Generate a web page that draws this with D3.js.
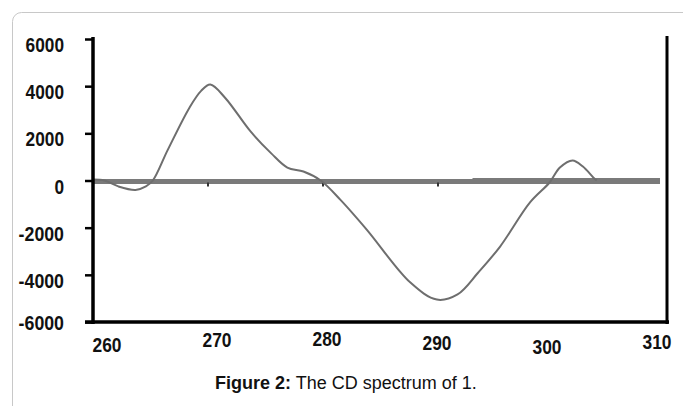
<!DOCTYPE html>
<html><head><meta charset="utf-8">
<script src="https://cdn.jsdelivr.net/npm/d3@7"></script>
<style>
html,body{margin:0;padding:0;background:#fff;}
svg{display:block;}
.num{font-family:"Liberation Sans",Arial,sans-serif;font-weight:bold;font-size:20px;fill:#111;}
.cap{font-family:"Liberation Sans",Arial,sans-serif;font-size:18px;fill:#111;}
</style></head>
<body>
<svg id="c" width="683" height="406"></svg>
<script>
// Data (wavelength nm, CD value)
const wavelengths = [260, 261, 262.2, 263.7, 264.6, 265.2, 266.5, 268.4, 269.4, 270.2, 271.5, 273.7, 275.5, 276.9, 278.3, 279.8, 281.5, 283.8, 287.6, 289.9, 291.7, 293.5, 295.4, 298.0, 299.7, 300.6, 301.7, 302.6, 303.5, 303.8];
const cdValues    = [40, 0, -250, -400, -250, 0, 1300, 3100, 3800, 4070, 3500, 2080, 1150, 550, 380, 0, -810, -2080, -4330, -5050, -4830, -3900, -2800, -930, -85, 550, 850, 590, 130, 0];
const xTicks = [260, 270, 280, 290, 300, 310];
const yTicks = [6000, 4000, 2000, 0, -2000, -4000, -6000];
const captionBold = "Figure 2:";
const captionText = " The CD spectrum of 1.";

const svg = d3.select("#c");

// card border
svg.append("rect").attr("x", 12.5).attr("y", 12.5).attr("width", 720).attr("height", 420)
  .attr("rx", 9).attr("fill", "none").attr("stroke", "#c8c8c8").attr("stroke-width", 1);

const x = d3.scaleLinear().domain([260, 310]).range([93, 668]);
const y = d3.scaleLinear().domain([-6000, 6000]).range([322, 39]);
const xLabel = d3.scaleLinear().domain([260, 310]).range([107, 657]);

// zero line
svg.append("line").attr("x1", x(260)).attr("x2", x(310) - 8).attr("y1", y(0) + 1).attr("y2", y(0) + 1)
  .attr("stroke", "#7a7a7a").attr("stroke-width", 5);
svg.append("line").attr("x1", x(293)).attr("x2", x(310) - 8).attr("y1", y(0) - 1).attr("y2", y(0) - 1)
  .attr("stroke", "#7a7a7a").attr("stroke-width", 3);
// small ticks on the zero line
svg.selectAll(".zt").data([270, 280, 290]).enter().append("line")
  .attr("x1", d => x(d)).attr("x2", d => x(d)).attr("y1", y(0) + 2).attr("y2", y(0) + 6)
  .attr("stroke", "#333").attr("stroke-width", 2);

// curve
const line = d3.line().x((d, i) => x(wavelengths[i])).y(d => y(d)).curve(d3.curveCatmullRom.alpha(0.5));
svg.append("path").datum(cdValues).attr("d", line).attr("fill", "none")
  .attr("stroke", "#6e6e6e").attr("stroke-width", 2);

// left axis
const yAxis = d3.axisLeft(y).tickValues(yTicks).tickSize(8).tickFormat("");
const ga = svg.append("g").attr("transform", `translate(${x(260)},0)`).call(yAxis);
ga.select(".domain").remove();
ga.selectAll(".tick line").attr("stroke", "#000").attr("stroke-width", 2.5);
svg.append("line").attr("x1", x(260)).attr("x2", x(260)).attr("y1", 37).attr("y2", 324)
  .attr("stroke", "#000").attr("stroke-width", 3.5);
// right axis
svg.append("line").attr("x1", x(310) - 1).attr("x2", x(310) - 1).attr("y1", 36).attr("y2", 324)
  .attr("stroke", "#000").attr("stroke-width", 3);
// bottom axis
svg.append("line").attr("x1", 85).attr("x2", x(310) + 1).attr("y1", y(-6000)).attr("y2", y(-6000))
  .attr("stroke", "#000").attr("stroke-width", 3.5);

// y labels (condensed via textLength)
svg.selectAll(".yl").data(yTicks).enter().append("text").attr("class", "num")
  .attr("x", 64).attr("y", d => y(d) + (d === -6000 ? 8 : 13)).attr("text-anchor", "end")
  .attr("textLength", d => String(d).replace("-", "").length * 9.6 + (d < 0 ? 7 : 0))
  .attr("lengthAdjust", "spacingAndGlyphs")
  .text(d => d);

// x labels
const xDy = [352, 347, 346, 350, 354, 349];
svg.selectAll(".xl").data(xTicks).enter().append("text").attr("class", "num")
  .attr("x", d => xLabel(d)).attr("y", (d, i) => xDy[i]).attr("text-anchor", "middle")
  .attr("textLength", 29).attr("lengthAdjust", "spacingAndGlyphs")
  .text(d => d);

// caption
const cap = svg.append("text").attr("class", "cap").attr("x", 215).attr("y", 389);
cap.append("tspan").attr("font-weight", "bold").text(captionBold);
cap.append("tspan").text(captionText);
</script>
</body></html>
